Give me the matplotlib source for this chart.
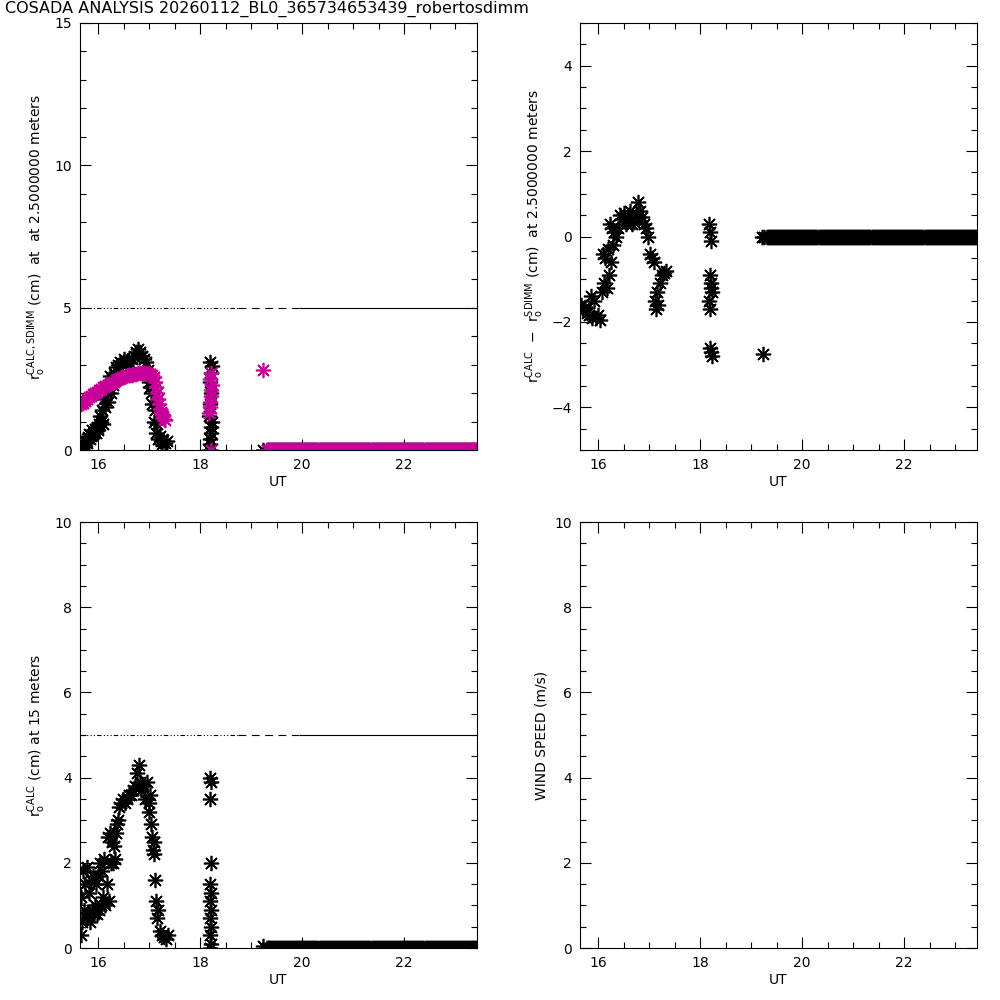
import numpy as np
import matplotlib
matplotlib.use("Agg")
import matplotlib.pyplot as plt

plt.rcParams['font.family'] = 'DejaVu Sans'
plt.rcParams['mathtext.default'] = 'regular'

TITLE = "COSADA ANALYSIS 20260112_BL0_365734653439_robertosdimm"
XMIN, XMAX = 15.64, 23.43
MAGENTA = '#c8009a'

# r0 CALC at 2.5 m (black, top left)
ut_calc25 = [15.66, 15.68, 15.70, 15.72, 15.74, 15.76, 15.78, 15.80, 15.82, 15.84,
             15.86, 15.88, 15.90, 15.92, 15.94, 15.96, 15.98, 16.00, 16.02, 16.04,
             16.06, 16.08, 16.10, 16.12, 16.14, 16.16, 16.18, 16.20, 16.22, 16.24,
             16.26, 16.28, 16.30, 16.32, 16.34, 16.38, 16.42, 16.46, 16.50, 16.54,
             16.58, 16.62, 16.66, 16.70, 16.74, 16.78, 16.82, 16.86, 16.90, 16.94,
             16.98, 17.00, 17.02, 17.04, 17.06, 17.08, 17.10, 17.12, 17.14, 17.16,
             17.18, 17.20, 17.22, 17.24, 17.26, 17.30, 17.34]
r0_calc25 = [0.05, 0.15, 0.10, 0.20, 0.15, 0.30, 0.25, 0.45, 0.55, 0.40,
             0.50, 0.70, 0.55, 0.60, 0.75, 0.60, 0.80, 0.70, 0.90, 1.20,
             1.00, 1.40, 0.90, 1.80, 1.50, 2.00, 1.70, 2.20, 2.60, 2.00,
             2.50, 2.30, 2.70, 2.60, 2.90, 3.00, 3.10, 3.00, 3.20, 3.10,
             3.15, 3.05, 3.20, 3.30, 3.45, 3.55, 3.45, 3.30, 3.20, 3.10,
             2.80, 2.40, 2.20, 2.00, 1.60, 2.30, 1.00, 1.40, 0.60, 0.90,
             0.40, 0.50, 0.30, 0.20, 0.35, 0.25, 0.30]

# r0 SDIMM at 2.5 m (magenta, top left)
ut_sdimm = [15.66, 15.70, 15.74, 15.78, 15.82, 15.86, 15.90, 15.94, 15.98, 16.02,
            16.06, 16.10, 16.14, 16.18, 16.22, 16.26, 16.30, 16.34, 16.38, 16.42,
            16.46, 16.50, 16.54, 16.58, 16.62, 16.66, 16.70, 16.74, 16.78, 16.82,
            16.86, 16.90, 16.94, 16.98, 17.02, 17.06, 17.09, 17.11, 17.13, 17.15,
            17.17, 17.19, 17.21, 17.23, 17.25, 17.27, 17.29, 17.31]
r0_sdimm = [1.60, 1.65, 1.72, 1.78, 1.85, 1.90, 1.95, 2.00, 2.05, 2.10,
            2.15, 2.20, 2.25, 2.28, 2.32, 2.36, 2.40, 2.45, 2.48, 2.52,
            2.55, 2.58, 2.60, 2.62, 2.64, 2.65, 2.67, 2.68, 2.70, 2.70,
            2.72, 2.70, 2.70, 2.70, 2.68, 2.65, 2.55, 2.40, 2.20, 2.00,
            1.80, 1.60, 1.45, 1.35, 1.25, 1.20, 1.10, 1.05]

# cluster near 18.2 UT
ut_c18_calc25 = [18.18, 18.19, 18.20, 18.21, 18.22, 18.23, 18.18, 18.20, 18.22, 18.19,
                 18.21, 18.23, 18.20]
r0_c18_calc25 = [0.00, 0.20, 0.40, 0.60, 0.80, 1.00, 1.20, 1.60, 2.00, 2.40,
                 2.70, 2.95, 3.10]
ut_c18_sdimm = [18.18, 18.19, 18.20, 18.21, 18.22, 18.23, 18.20, 18.21, 18.22]
r0_c18_sdimm = [1.30, 1.50, 1.70, 1.90, 2.10, 2.30, 2.50, 2.70, 0.00]

# single sample near 19.2 UT
ut_single = [19.24]
r0_single_calc25 = [0.0]
r0_single_sdimm = [2.8]

# difference CALC - SDIMM (top right)
ut_diff = [15.66, 15.70, 15.74, 15.78, 15.82, 15.86, 15.88, 15.92, 15.96, 16.00,
           16.04, 16.08, 16.10, 16.12, 16.14, 16.16, 16.18, 16.20, 16.22, 16.24,
           16.26, 16.28, 16.30, 16.34, 16.38, 16.42, 16.46, 16.50, 16.54, 16.58,
           16.62, 16.66, 16.70, 16.74, 16.78, 16.82, 16.86, 16.90, 16.94, 16.98,
           17.02, 17.06, 17.10, 17.12, 17.14, 17.16, 17.18, 17.20, 17.24, 17.28,
           17.32]
dr0 = [-1.60, -1.70, -1.65, -1.80, -1.85, -1.40, -1.90, -1.50, -1.90, -1.85,
       -1.95, -1.30, -0.40, -1.10, -0.50, -1.20, -0.30, -0.90, 0.30, -0.60,
       0.20, -0.20, 0.10, 0.00, 0.20, 0.50, 0.40, 0.55, 0.30, 0.50,
       0.60, 0.30, 0.35, 0.50, 0.80, 0.60, 0.45, 0.30, 0.20, 0.00,
       -0.40, -0.50, -0.60, -1.50, -1.70, -1.30, -1.60, -1.10, -0.90, -0.85,
       -0.80]
ut_c18_diff = [18.18, 18.20, 18.22, 18.19, 18.21, 18.23, 18.18, 18.20, 18.22, 18.19,
               18.21, 18.23]
dr0_c18 = [0.30, 0.10, -0.10, -0.90, -1.10, -1.30, -1.50, -1.70, -1.20, -2.60,
           -2.70, -2.80]
dr0_single = [-2.75]

# r0 CALC at 15 m (bottom left)
ut_calc15 = [15.66, 15.66, 15.68, 15.70, 15.72, 15.74, 15.76, 15.78, 15.80, 15.82,
             15.84, 15.86, 15.88, 15.90, 15.92, 15.94, 15.96, 15.98, 16.00, 16.02,
             16.04, 16.06, 16.08, 16.10, 16.12, 16.14, 16.16, 16.18, 16.20, 16.22,
             16.24, 16.26, 16.28, 16.30, 16.32, 16.34, 16.36, 16.38, 16.40, 16.44,
             16.48, 16.52, 16.56, 16.60, 16.64, 16.68, 16.72, 16.76, 16.80, 16.82,
             16.84, 16.88, 16.92, 16.96, 17.00, 17.00, 17.02, 17.04, 17.06, 17.08,
             17.10, 17.10, 17.12, 17.14, 17.16, 17.18, 17.20, 17.24, 17.28, 17.32,
             17.36]
r0_calc15 = [0.30, 1.20, 0.60, 1.80, 0.90, 1.50, 0.70, 1.90, 0.80, 1.30,
             0.60, 1.60, 0.90, 1.70, 0.80, 1.00, 1.50, 0.80, 1.70, 0.90,
             2.00, 1.00, 1.80, 1.20, 2.10, 1.00, 1.50, 2.60, 1.10, 2.70,
             2.00, 2.50, 2.00, 2.40, 2.10, 2.70, 2.90, 3.00, 3.30, 3.40,
             3.50, 3.40, 3.50, 3.60, 3.60, 3.70, 3.80, 4.10, 4.30, 3.90,
             3.70, 3.80, 3.50, 3.90, 3.20, 3.40, 3.60, 2.90, 2.60, 2.30,
             2.50, 2.20, 1.60, 1.10, 0.70, 0.90, 0.40, 0.30, 0.25, 0.20,
             0.30]
ut_c18_calc15 = [18.20, 18.21, 18.20, 18.21, 18.19, 18.22, 18.20, 18.21, 18.19, 18.22,
                 18.20, 18.21, 18.20]
r0_c18_calc15 = [4.00, 3.90, 3.50, 2.00, 1.50, 1.30, 1.10, 0.90, 0.70, 0.50,
                 0.30, 0.10, 0.00]
r0_single_calc15 = [0.05]

# flat part after 19.3 UT (all zero)
ut_flat = np.arange(19.30, 23.44, 0.02)
zero_flat = np.zeros(len(ut_flat))

ms = 11
mk = (8, 2, 0)


def style_axis(ax, ymin, ymax, ymaj, ymin_step):
    ax.set_xlim(XMIN, XMAX)
    ax.set_ylim(ymin, ymax)
    ax.set_xticks([16, 18, 20, 22])
    ax.set_xticks(np.arange(16, 23.5, 0.5), minor=True)
    ax.set_yticks(np.arange(ymin, ymax + 0.01, ymaj))
    ax.set_yticks(np.arange(ymin, ymax + 0.01, ymin_step), minor=True)
    ax.tick_params(which='both', direction='in', top=True, right=True,
                   labelsize=10, width=0.8)
    ax.tick_params(which='major', length=8, pad=6)
    ax.tick_params(which='minor', length=4)
    ax.set_xlabel('UT', fontsize=10, labelpad=2)
    for s in ax.spines.values():
        s.set_linewidth(0.8)


def ref_line(ax):
    ax.plot([XMIN, 18.75], [5, 5], color='k', lw=0.8, dashes=[4, 2, 1, 2, 1, 2, 1, 2])
    ax.plot([18.75, 19.95], [5, 5], color='k', lw=0.8, dashes=[7, 5])
    ax.plot([19.95, XMAX], [5, 5], color='k', lw=0.8)


def pts(ax, x, y, c):
    ax.plot(x, y, ls='none', marker=mk, ms=ms, mew=1.2, color=c)


fig = plt.figure(figsize=(10, 10), dpi=100)
fig.text(0.005, 0.9995, TITLE, fontsize=11.5, va='top', ha='left')

# top left
ax1 = fig.add_axes([0.080, 0.550, 0.397, 0.427])
style_axis(ax1, 0, 15, 5, 1)
ref_line(ax1)
pts(ax1, ut_calc25, r0_calc25, 'k')
pts(ax1, ut_c18_calc25, r0_c18_calc25, 'k')
pts(ax1, ut_single, r0_single_calc25, 'k')
pts(ax1, ut_flat, zero_flat, 'k')
pts(ax1, ut_sdimm, r0_sdimm, MAGENTA)
pts(ax1, ut_c18_sdimm, r0_c18_sdimm, MAGENTA)
pts(ax1, ut_single, r0_single_sdimm, MAGENTA)
pts(ax1, ut_flat, zero_flat, MAGENTA)
ax1.set_ylabel(r'r$_o^{CALC,SDIMM}$ (cm)  at  at 2.5000000 meters', fontsize=10)

# top right
ax2 = fig.add_axes([0.580, 0.550, 0.397, 0.427])
style_axis(ax2, -5, 5, 2, 0.5)
ax2.set_yticks([-4, -2, 0, 2, 4])
pts(ax2, ut_diff, dr0, 'k')
pts(ax2, ut_c18_diff, dr0_c18, 'k')
pts(ax2, ut_single, dr0_single, 'k')
pts(ax2, np.concatenate([[19.22, 19.26], ut_flat]), np.zeros(len(ut_flat) + 2), 'k')
ax2.set_ylabel(r'r$_o^{CALC}$  $-$  r$_o^{SDIMM}$ (cm)  at 2.5000000 meters', fontsize=10)

# bottom left
ax3 = fig.add_axes([0.080, 0.052, 0.397, 0.426])
style_axis(ax3, 0, 10, 2, 0.5)
ref_line(ax3)
pts(ax3, ut_calc15, r0_calc15, 'k')
pts(ax3, ut_c18_calc15, r0_c18_calc15, 'k')
pts(ax3, ut_single, r0_single_calc15, 'k')
pts(ax3, ut_flat, zero_flat, 'k')
ax3.set_ylabel(r'r$_o^{CALC}$ (cm) at 15 meters', fontsize=10)

# bottom right
ax4 = fig.add_axes([0.580, 0.052, 0.397, 0.426])
style_axis(ax4, 0, 10, 2, 0.5)
ax4.set_ylabel('WIND SPEED (m/s)', fontsize=10)

fig.savefig('out.png', dpi=100)
